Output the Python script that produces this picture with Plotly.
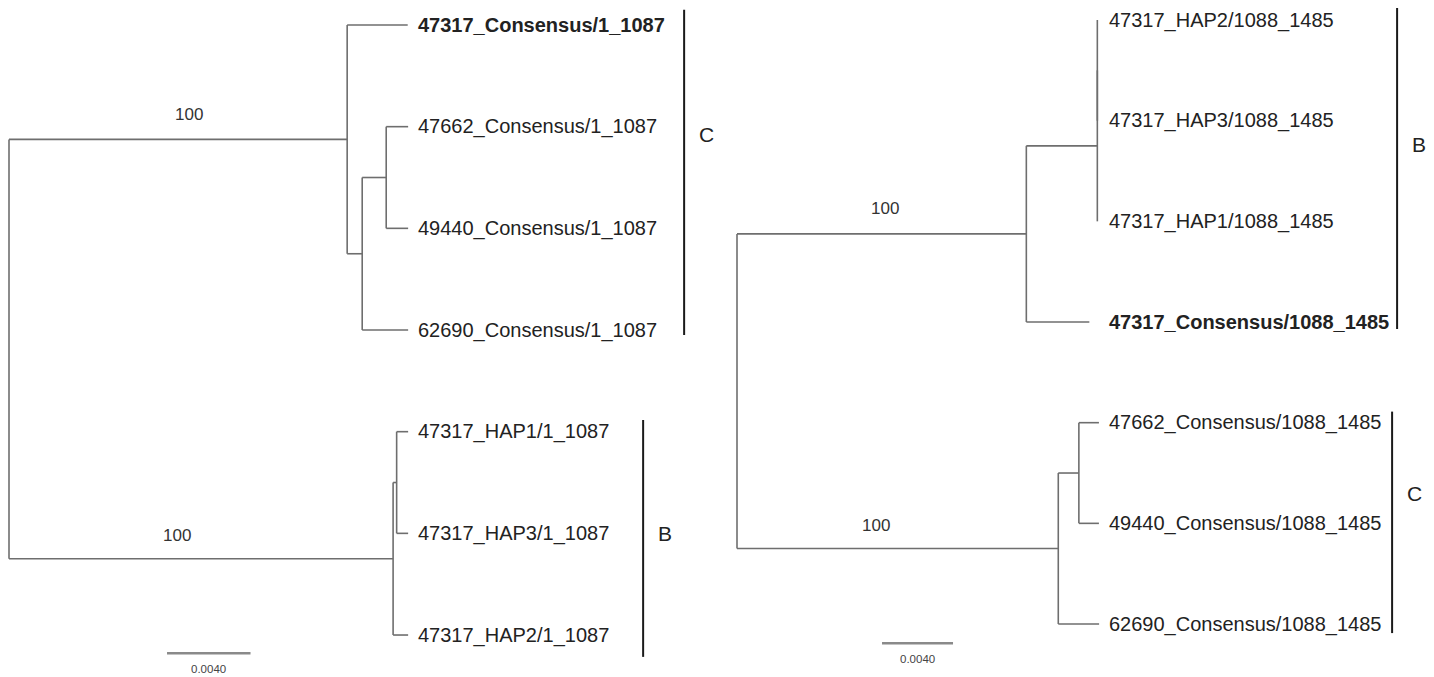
import plotly.graph_objects as go

# ---------------- data ----------------
# Left tree (region 1_1087): nodes in depth-first order
L_names = ["root", "nC", "47317_Consensus/1_1087", "nC1", "nC2",
           "47662_Consensus/1_1087", "49440_Consensus/1_1087", "62690_Consensus/1_1087",
           "nB", "nB1", "47317_HAP1/1_1087", "47317_HAP3/1_1087", "47317_HAP2/1_1087"]
L_parent = [-1, 0, 1, 1, 3, 4, 4, 3, 0, 8, 9, 9, 8]
L_length = [0, 0.0162, 0.0029, 0.00072, 0.00115, 0.00105, 0.00105, 0.0022,
            0.0184, 0.00017, 0.00055, 0.00055, 0.00072]
L_support = [None, 100, None, None, None, None, None, None, 100, None, None, None, None]
L_bold = ["47317_Consensus/1_1087"]
L_clades = ["C", "B"]
L_clade_first = [0, 4]
L_clade_last = [3, 6]

# Right tree (region 1088_1485)
R_names = ["root", "nB", "nB1", "nB2",
           "47317_HAP2/1088_1485", "47317_HAP3/1088_1485", "47317_HAP1/1088_1485",
           "47317_Consensus/1088_1485", "nC", "nC1",
           "47662_Consensus/1088_1485", "49440_Consensus/1088_1485", "62690_Consensus/1088_1485"]
R_parent = [-1, 0, 1, 2, 3, 3, 2, 1, 0, 8, 9, 9, 8]
R_length = [0, 0.0163, 0.0040, 0.0, 0.0, 0.0, 0.0, 0.00355, 0.0181, 0.00116,
            0.00113, 0.00113, 0.0023]
R_support = [None, 100, None, None, None, None, None, None, 100, None, None, None, None]
R_bold = ["47317_Consensus/1088_1485"]
R_clades = ["B", "C"]
R_clade_first = [0, 4]
R_clade_last = [3, 6]

scale_value = 0.0040
scale_label = "0.0040"

# ---------------- styling ----------------
FONT = "Liberation Sans, Arial, sans-serif"
BRANCH = "#6e6e6e"
TEXT = "#222222"
W, H = 1426, 669


def layout_tree(parent, length):
    n = len(parent)
    children = [[] for _ in range(n)]
    for i, p in enumerate(parent):
        if p >= 0:
            children[p].append(i)
    x = [0.0] * n
    for i in range(n):
        if parent[i] >= 0:
            x[i] = x[parent[i]] + length[i]
    y = [None] * n
    leaf = 0
    for i in range(n):
        if not children[i]:
            y[i] = leaf
            leaf += 1

    def gety(i):
        if y[i] is None:
            ys = [gety(c) for c in children[i]]
            y[i] = (ys[0] + ys[-1]) / 2.0
        return y[i]

    for i in range(n):
        gety(i)
    return x, y, children


fig = go.Figure()
annotations = []
shapes = []

LPX, RPX = 20875.0, 17750.0   # pixels per unit of branch length
trees = [
    dict(names=L_names, parent=L_parent, length=L_length, support=L_support, bold=L_bold,
         clades=L_clades, cf=L_clade_first, cl=L_clade_last,
         xa="x", ya="y", xr="x", yr="y",
         xdomain=[0, 0.5], xrange=[-1 / LPX, 712 / LPX],
         yrange=[(H - 17) / 101.67, -17 / 101.67],
         sup_shift=[11, -24], sup_y=[25, 23],
         clade_dx=[276, 235], clade_pad=[(0.15, 0.05), (0.115, 0.215)],
         clade_ly=[1.08, 5.0],
         scale_x=0.00757, scale_y=6.18),
    dict(names=R_names, parent=R_parent, length=R_length, support=R_support, bold=R_bold,
         clades=R_clades, cf=R_clade_first, cl=R_clade_last,
         xa="x2", ya="y2", xr="x2", yr="y2",
         xdomain=[0.5, 1], xrange=[-16 / RPX, 697 / RPX],
         yrange=[(H - 12) / 100.67, -12 / 100.67],
         sup_shift=[3, -22], sup_y=[25, 23],
         clade_dx=[298, 293], clade_pad=[(0.12, 0.07), (0.11, 0.09)],
         clade_ly=[1.24, 4.70],
         scale_x=0.00817, scale_y=6.19),
]

for t in trees:
    x, y, children = layout_tree(t["parent"], t["length"])
    xs, ys = [], []
    for i, p in enumerate(t["parent"]):
        if p >= 0 and t["length"][i] > 0:
            xs += [x[p], x[i], None]
            ys += [y[i], y[i], None]
        if children[i]:
            c = children[i]
            xs += [x[i], x[i], None]
            ys += [y[c[0]], y[c[-1]], None]
    fig.add_trace(go.Scatter(x=xs, y=ys, mode="lines", xaxis=t["xa"], yaxis=t["ya"],
                             line=dict(color=BRANCH, width=1.6), hoverinfo="skip"))
    maxdepth = max(x)
    leaves = [i for i in range(len(x)) if not children[i]]
    # leaf labels
    for i in leaves:
        name = t["names"][i]
        txt = "<b>%s</b>" % name if name in t["bold"] else name
        annotations.append(dict(x=maxdepth, y=y[i], xref=t["xr"], yref=t["yr"], text=txt,
                                showarrow=False, xanchor="left", yanchor="middle", xshift=8,
                                font=dict(family=FONT, size=20, color=TEXT)))
    # support values
    k = 0
    for i, s in enumerate(t["support"]):
        if s is not None:
            p = t["parent"][i]
            annotations.append(dict(x=(x[p] + x[i]) / 2, y=y[i], xref=t["xr"], yref=t["yr"],
                                    text=str(s), showarrow=False, xanchor="center",
                                    yanchor="middle", xshift=t["sup_shift"][k],
                                    yshift=t["sup_y"][k],
                                    font=dict(family=FONT, size=17, color="#333333")))
            k += 1
    # clade bars
    for j, cname in enumerate(t["clades"]):
        y0 = y[leaves[t["cf"][j]]] - t["clade_pad"][j][0]
        y1 = y[leaves[t["cl"][j]]] + t["clade_pad"][j][1]
        dx = t["clade_dx"][j]
        shapes.append(dict(type="line", xref=t["xr"], yref=t["yr"], xsizemode="pixel",
                           xanchor=maxdepth, x0=dx, x1=dx, y0=y0, y1=y1,
                           line=dict(color="#1a1a1a", width=2)))
        annotations.append(dict(x=maxdepth, y=t["clade_ly"][j], xref=t["xr"], yref=t["yr"],
                                text=cname, showarrow=False, xanchor="center",
                                yanchor="middle", xshift=dx + 22,
                                font=dict(family=FONT, size=21, color=TEXT)))
    # scale bar
    shapes.append(dict(type="line", xref=t["xr"], yref=t["yr"],
                       x0=t["scale_x"], x1=t["scale_x"] + scale_value,
                       y0=t["scale_y"], y1=t["scale_y"],
                       line=dict(color="#8a8a8a", width=2.5)))
    annotations.append(dict(x=t["scale_x"] + scale_value / 2, y=t["scale_y"],
                            xref=t["xr"], yref=t["yr"], text=scale_label, showarrow=False,
                            xanchor="center", yanchor="middle", yshift=-16,
                            font=dict(family=FONT, size=11.5, color="#444444")))

ax = dict(visible=False, showgrid=False, zeroline=False, fixedrange=True)
fig.update_layout(
    width=W, height=H,
    margin=dict(l=0, r=0, t=0, b=0),
    paper_bgcolor="white", plot_bgcolor="white",
    showlegend=False,
    xaxis=dict(ax, domain=trees[0]["xdomain"], range=trees[0]["xrange"]),
    yaxis=dict(ax, domain=[0, 1], range=trees[0]["yrange"]),
    xaxis2=dict(ax, domain=trees[1]["xdomain"], range=trees[1]["xrange"], anchor="y2"),
    yaxis2=dict(ax, domain=[0, 1], range=trees[1]["yrange"], anchor="x2"),
    annotations=annotations,
    shapes=shapes,
)

fig.write_html("out.html")
